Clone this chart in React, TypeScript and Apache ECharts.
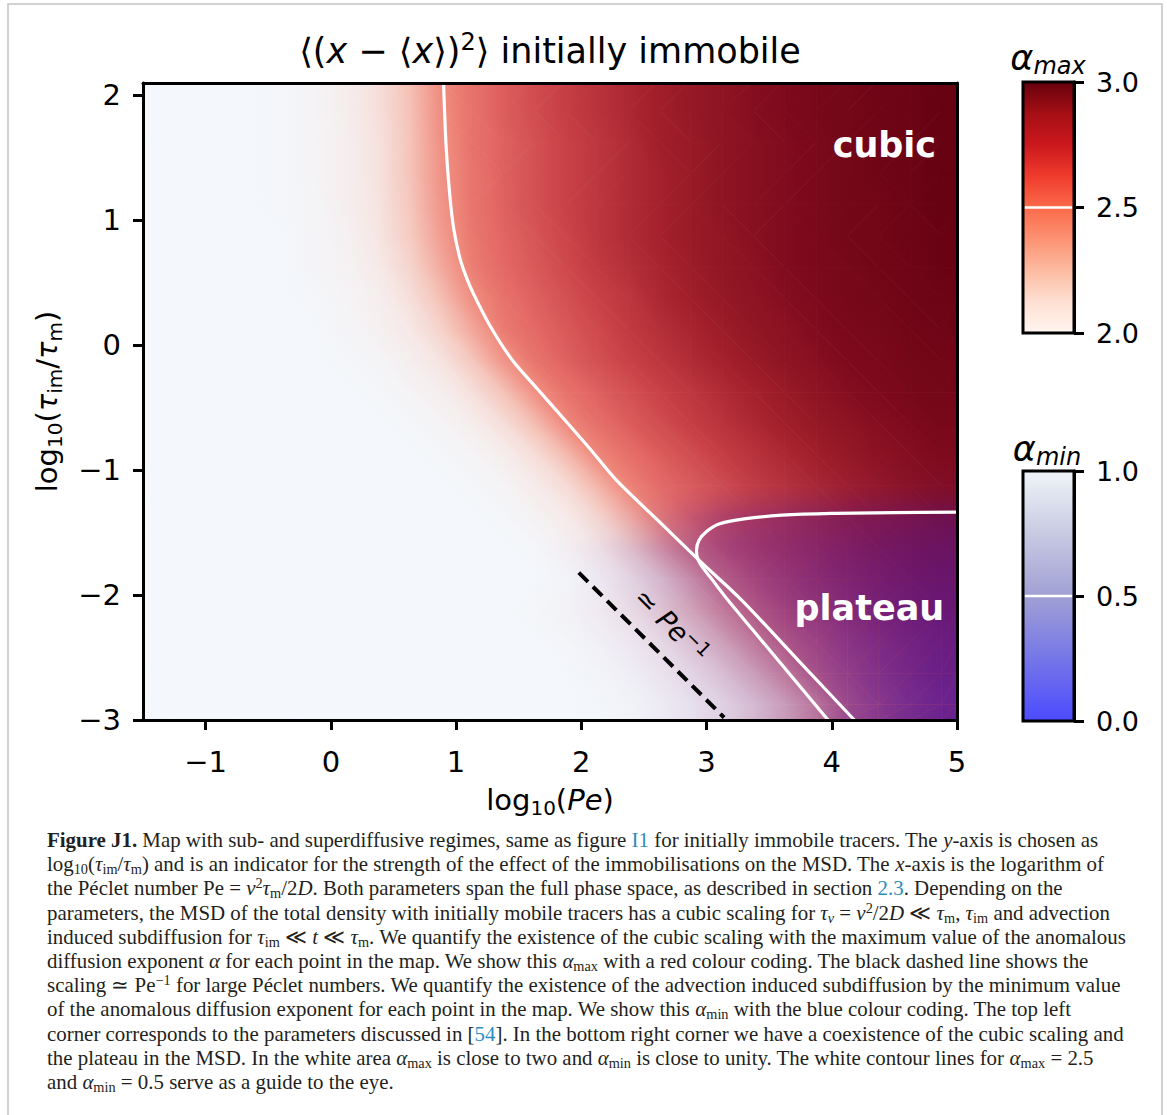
import React, { useEffect, useRef } from "react";
import * as echarts from "echarts";

// ---------------- data ----------------
const peCenters = [-1.375, -1.125, -0.875, -0.625, -0.375, -0.125, 0.125, 0.375, 0.625, 0.875, 1.125, 1.375, 1.625, 1.875, 2.125, 2.375, 2.625, 2.875, 3.125, 3.375, 3.625, 3.875, 4.125, 4.375, 4.625, 4.875];
const tauCenters = [-2.875, -2.625, -2.375, -2.125, -1.875, -1.625, -1.375, -1.125, -0.875, -0.625, -0.375, -0.125, 0.125, 0.375, 0.625, 0.875, 1.125, 1.375, 1.625, 1.875, 2.125];
const peRange = [-1.5, 5];
const tauRange = [-3, 2.1];

// alpha_max, one row per tau (bottom to top), one column per Pe
const alphaMax = [
  [2, 2, 2, 2, 2, 2, 2, 2, 2, 2, 2, 2, 2, 2, 2, 2.01, 2.02, 2.04, 2.08, 2.14, 2.25, 2.39, 2.54, 2.6, 2.64, 2.68],
  [2, 2, 2, 2, 2, 2, 2, 2, 2, 2, 2, 2, 2, 2, 2.01, 2.02, 2.04, 2.08, 2.14, 2.25, 2.39, 2.54, 2.6, 2.64, 2.68, 2.72],
  [2, 2, 2, 2, 2, 2, 2, 2, 2, 2, 2, 2, 2, 2.01, 2.02, 2.04, 2.08, 2.14, 2.25, 2.39, 2.54, 2.6, 2.64, 2.68, 2.72, 2.75],
  [2, 2, 2, 2, 2, 2, 2, 2, 2, 2, 2, 2, 2.01, 2.02, 2.04, 2.08, 2.14, 2.25, 2.39, 2.54, 2.62, 2.66, 2.7, 2.74, 2.77, 2.8],
  [2, 2, 2, 2, 2, 2, 2, 2, 2, 2, 2, 2, 2, 2.01, 2.03, 2.08, 2.16, 2.32, 2.51, 2.61, 2.66, 2.7, 2.74, 2.77, 2.8, 2.82],
  [2, 2, 2, 2, 2, 2, 2, 2, 2, 2, 2, 2, 2.01, 2.04, 2.09, 2.18, 2.34, 2.52, 2.62, 2.67, 2.71, 2.74, 2.77, 2.8, 2.83, 2.85],
  [2, 2, 2, 2, 2, 2, 2, 2, 2, 2, 2, 2.01, 2.04, 2.08, 2.18, 2.34, 2.52, 2.61, 2.66, 2.7, 2.73, 2.76, 2.79, 2.82, 2.84, 2.87],
  [2, 2, 2, 2, 2, 2, 2, 2, 2, 2, 2.01, 2.03, 2.08, 2.16, 2.32, 2.51, 2.59, 2.63, 2.67, 2.71, 2.74, 2.77, 2.8, 2.83, 2.86, 2.88],
  [2, 2, 2, 2, 2, 2, 2, 2, 2, 2.01, 2.03, 2.07, 2.15, 2.3, 2.5, 2.58, 2.63, 2.67, 2.71, 2.74, 2.77, 2.8, 2.83, 2.86, 2.88, 2.9],
  [2, 2, 2, 2, 2, 2, 2, 2, 2.01, 2.03, 2.07, 2.15, 2.29, 2.49, 2.58, 2.63, 2.67, 2.71, 2.74, 2.77, 2.8, 2.83, 2.85, 2.88, 2.9, 2.92],
  [2, 2, 2, 2, 2, 2, 2, 2.01, 2.03, 2.06, 2.14, 2.27, 2.46, 2.57, 2.62, 2.66, 2.7, 2.73, 2.76, 2.79, 2.82, 2.85, 2.88, 2.9, 2.92, 2.93],
  [2, 2, 2, 2, 2, 2, 2.01, 2.02, 2.06, 2.12, 2.25, 2.44, 2.56, 2.62, 2.66, 2.7, 2.73, 2.76, 2.79, 2.82, 2.85, 2.87, 2.9, 2.91, 2.93, 2.94],
  [2, 2, 2, 2, 2, 2, 2.02, 2.05, 2.1, 2.2, 2.37, 2.54, 2.6, 2.64, 2.68, 2.72, 2.75, 2.78, 2.81, 2.84, 2.86, 2.89, 2.91, 2.92, 2.94, 2.95],
  [2, 2, 2, 2, 2, 2.01, 2.03, 2.06, 2.14, 2.28, 2.47, 2.57, 2.62, 2.66, 2.7, 2.73, 2.77, 2.8, 2.83, 2.85, 2.88, 2.9, 2.92, 2.93, 2.95, 2.96],
  [2, 2, 2, 2, 2, 2.02, 2.04, 2.09, 2.19, 2.36, 2.53, 2.6, 2.64, 2.68, 2.72, 2.75, 2.78, 2.81, 2.84, 2.86, 2.89, 2.91, 2.92, 2.94, 2.95, 2.97],
  [2, 2, 2, 2, 2, 2.02, 2.05, 2.11, 2.23, 2.41, 2.55, 2.61, 2.65, 2.69, 2.73, 2.76, 2.79, 2.82, 2.84, 2.87, 2.89, 2.91, 2.93, 2.94, 2.96, 2.97],
  [2, 2, 2, 2, 2.01, 2.02, 2.06, 2.12, 2.25, 2.44, 2.56, 2.62, 2.66, 2.7, 2.73, 2.76, 2.79, 2.82, 2.85, 2.87, 2.89, 2.91, 2.93, 2.94, 2.96, 2.98],
  [2, 2, 2, 2, 2.01, 2.03, 2.06, 2.13, 2.26, 2.45, 2.56, 2.62, 2.66, 2.7, 2.73, 2.76, 2.79, 2.82, 2.85, 2.87, 2.89, 2.91, 2.93, 2.95, 2.96, 2.98],
  [2, 2, 2, 2, 2.01, 2.03, 2.06, 2.13, 2.26, 2.46, 2.57, 2.62, 2.66, 2.7, 2.73, 2.76, 2.8, 2.82, 2.85, 2.87, 2.89, 2.91, 2.93, 2.95, 2.96, 2.98],
  [2, 2, 2, 2, 2.01, 2.03, 2.07, 2.14, 2.27, 2.47, 2.57, 2.63, 2.67, 2.71, 2.74, 2.77, 2.8, 2.83, 2.85, 2.88, 2.9, 2.92, 2.93, 2.95, 2.96, 2.98],
  [2, 2, 2, 2, 2.01, 2.03, 2.07, 2.14, 2.28, 2.48, 2.57, 2.63, 2.67, 2.71, 2.74, 2.77, 2.8, 2.83, 2.85, 2.88, 2.9, 2.92, 2.93, 2.95, 2.96, 2.98],
];

// alpha_min, same grid
const alphaMin = [
  [1, 1, 1, 1, 1, 1, 1, 1, 1, 1, 1, 1, 1, 0.99, 0.96, 0.92, 0.86, 0.79, 0.72, 0.64, 0.57, 0.49, 0.36, 0.28, 0.22, 0.18],
  [1, 1, 1, 1, 1, 1, 1, 1, 1, 1, 1, 1, 1, 0.98, 0.94, 0.89, 0.82, 0.74, 0.66, 0.58, 0.51, 0.41, 0.33, 0.27, 0.23, 0.2],
  [1, 1, 1, 1, 1, 1, 1, 1, 1, 1, 1, 1, 0.99, 0.96, 0.91, 0.85, 0.77, 0.68, 0.6, 0.52, 0.45, 0.38, 0.32, 0.28, 0.25, 0.23],
  [1, 1, 1, 1, 1, 1, 1, 1, 1, 1, 1, 1, 0.98, 0.94, 0.88, 0.8, 0.71, 0.62, 0.54, 0.47, 0.42, 0.37, 0.33, 0.3, 0.28, 0.27],
  [1, 1, 1, 1, 1, 1, 1, 1, 1, 1, 1, 1, 0.98, 0.93, 0.85, 0.75, 0.64, 0.55, 0.48, 0.44, 0.4, 0.37, 0.35, 0.33, 0.32, 0.31],
  [1, 1, 1, 1, 1, 1, 1, 1, 1, 1, 1, 1, 0.98, 0.93, 0.84, 0.72, 0.6, 0.51, 0.47, 0.45, 0.43, 0.42, 0.4, 0.39, 0.38, 0.37],
  [1, 1, 1, 1, 1, 1, 1, 1, 1, 1, 1, 1, 1, 0.98, 0.94, 0.86, 0.76, 0.66, 0.58, 0.54, 0.52, 0.51, 0.5, 0.5, 0.49, 0.48],
  [1, 1, 1, 1, 1, 1, 1, 1, 1, 1, 1, 1, 1, 1, 0.99, 0.96, 0.93, 0.91, 0.89, 0.87, 0.86, 0.85, 0.85, 0.84, 0.84, 0.83],
  [1, 1, 1, 1, 1, 1, 1, 1, 1, 1, 1, 1, 1, 1, 1, 1, 0.99, 0.99, 0.98, 0.98, 0.97, 0.97, 0.96, 0.96, 0.96, 0.95],
  [1, 1, 1, 1, 1, 1, 1, 1, 1, 1, 1, 1, 1, 1, 1, 1, 1, 1, 1, 1, 0.99, 0.99, 0.99, 0.99, 0.99, 0.99],
  [1, 1, 1, 1, 1, 1, 1, 1, 1, 1, 1, 1, 1, 1, 1, 1, 1, 1, 1, 1, 1, 1, 1, 1, 1, 1],
  [1, 1, 1, 1, 1, 1, 1, 1, 1, 1, 1, 1, 1, 1, 1, 1, 1, 1, 1, 1, 1, 1, 1, 1, 1, 1],
  [1, 1, 1, 1, 1, 1, 1, 1, 1, 1, 1, 1, 1, 1, 1, 1, 1, 1, 1, 1, 1, 1, 1, 1, 1, 1],
  [1, 1, 1, 1, 1, 1, 1, 1, 1, 1, 1, 1, 1, 1, 1, 1, 1, 1, 1, 1, 1, 1, 1, 1, 1, 1],
  [1, 1, 1, 1, 1, 1, 1, 1, 1, 1, 1, 1, 1, 1, 1, 1, 1, 1, 1, 1, 1, 1, 1, 1, 1, 1],
  [1, 1, 1, 1, 1, 1, 1, 1, 1, 1, 1, 1, 1, 1, 1, 1, 1, 1, 1, 1, 1, 1, 1, 1, 1, 1],
  [1, 1, 1, 1, 1, 1, 1, 1, 1, 1, 1, 1, 1, 1, 1, 1, 1, 1, 1, 1, 1, 1, 1, 1, 1, 1],
  [1, 1, 1, 1, 1, 1, 1, 1, 1, 1, 1, 1, 1, 1, 1, 1, 1, 1, 1, 1, 1, 1, 1, 1, 1, 1],
  [1, 1, 1, 1, 1, 1, 1, 1, 1, 1, 1, 1, 1, 1, 1, 1, 1, 1, 1, 1, 1, 1, 1, 1, 1, 1],
  [1, 1, 1, 1, 1, 1, 1, 1, 1, 1, 1, 1, 1, 1, 1, 1, 1, 1, 1, 1, 1, 1, 1, 1, 1, 1],
  [1, 1, 1, 1, 1, 1, 1, 1, 1, 1, 1, 1, 1, 1, 1, 1, 1, 1, 1, 1, 1, 1, 1, 1, 1, 1],
];

const xTickValues = [-1, 0, 1, 2, 3, 4, 5];
const yTickValues = [-3, -2, -1, 0, 1, 2];
const alphaMaxBarTicks = [2.0, 2.5, 3.0];
const alphaMinBarTicks = [0.0, 0.5, 1.0];

// white contours (log10 Pe, log10 tau_im/tau_m)
const contourAlphaMax = [[0.9, 2.1], [0.92, 1.6], [0.95, 1.2], [0.98, 0.94], [1.03, 0.7], [1.08, 0.55], [1.14, 0.41], [1.28, 0.14], [1.45, -0.12], [1.65, -0.35], [1.87, -0.6], [2.07, -0.83], [2.28, -1.08], [2.62, -1.41], [2.96, -1.74], [3.28, -2.04], [3.73, -2.52], [4.18, -3.0]];
const contourAlphaMin = [[5.0, -1.335], [4.5, -1.34], [4.0, -1.345], [3.6, -1.36], [3.3, -1.39], [3.1, -1.43], [3.0, -1.49], [2.94, -1.56], [2.92, -1.64], [2.93, -1.71], [2.97, -1.78], [3.04, -1.87], [3.17, -2.04], [3.37, -2.28], [3.57, -2.52], [3.77, -2.76], [3.97, -3.0]];
const peScalingLine = [[1.98, -1.82], [3.14, -2.98]];

const regionLabels = [
  { text: "cubic", pe: 4.42, tau: 1.6 },
  { text: "plateau", pe: 4.3, tau: -2.1 },
];
const scalingLabel = { text: "≃ {i|Pe}{p|−1}", pe: 2.72, tau: -2.24 };

const captionLines = [
  "{b|Figure J1.} Map with sub- and superdiffusive regimes, same as figure {l|I1} for initially immobile tracers. The {i|y}-axis is chosen as",
  "log{s|10}({i|τ}{s|im}/{i|τ}{s|m}) and is an indicator for the strength of the effect of the immobilisations on the MSD. The {i|x}-axis is the logarithm of",
  "the Péclet number Pe = {i|v}{p|2}{i|τ}{s|m}/2{i|D}. Both parameters span the full phase space, as described in section {l|2.3}. Depending on the",
  "parameters, the MSD of the total density with initially mobile tracers has a cubic scaling for {i|τ}{si|v} = {i|v}{p|2}/2{i|D} ≪ {i|τ}{s|m}, {i|τ}{s|im} and advection",
  "induced subdiffusion for {i|τ}{s|im} ≪ {i|t} ≪ {i|τ}{s|m}. We quantify the existence of the cubic scaling with the maximum value of the anomalous",
  "diffusion exponent {i|α} for each point in the map. We show this {i|α}{s|max} with a red colour coding. The black dashed line shows the",
  "scaling ≃ Pe{p|−1} for large Péclet numbers. We quantify the existence of the advection induced subdiffusion by the minimum value",
  "of the anomalous diffusion exponent for each point in the map. We show this {i|α}{s|min} with the blue colour coding. The top left",
  "corner corresponds to the parameters discussed in [{l|54}]. In the bottom right corner we have a coexistence of the cubic scaling and",
  "the plateau in the MSD. In the white area {i|α}{s|max} is close to two and {i|α}{s|min} is close to unity. The white contour lines for {i|α}{s|max} = 2.5",
  "and {i|α}{s|min} = 0.5 serve as a guide to the eye.",
];

// ---------------- styles ----------------
const SANS = "DejaVu Sans";
const SERIF = "Liberation Serif";

const MAP_RED: [number, number[]][] = [
  [2.0, [244, 247, 251]],
  [2.1, [246, 232, 230]],
  [2.25, [245, 200, 190]],
  [2.4, [242, 160, 148]],
  [2.5, [238, 135, 122]],
  [2.6, [228, 105, 102]],
  [2.7, [200, 65, 70]],
  [2.8, [160, 30, 42]],
  [2.9, [125, 10, 28]],
  [3.0, [96, 0, 16]],
];
const MAP_RED_BREAKS = MAP_RED.map((s) => s[0]);
const MAP_BLUE = "62,18,172";
const BLUE_BREAKS = [0.1, 0.2, 0.3, 0.4, 0.5, 0.6, 0.7, 0.8, 0.9];

function ramp(v: number, stops: [number, number[]][]) {
  if (v <= stops[0][0]) return stops[0][1];
  for (let k = 1; k < stops.length; k++) {
    if (v <= stops[k][0]) {
      const [a, ca] = stops[k - 1];
      const [b, cb] = stops[k];
      const t = (v - a) / (b - a);
      return ca.map((c, n) => c + (cb[n] - c) * t);
    }
  }
  return stops[stops.length - 1][1];
}
const rgbStr = (c: number[]) => `rgb(${Math.round(c[0])},${Math.round(c[1])},${Math.round(c[2])})`;
const redColor = (amax: number) => rgbStr(ramp(amax, MAP_RED));
const blueAlpha = (amin: number) => 0.95 * Math.pow(Math.max(0, Math.min(1, 1 - amin)), 1.6);
const blueColor = (amin: number) => `rgba(${MAP_BLUE},${blueAlpha(amin).toFixed(4)})`;

// triangle shaded with a linear gradient along the gradient of the (affinely varying) value
function valueTriangle(P: number[][], V: number[], colorAt: (v: number) => string, breaks: number[], opaque: boolean) {
  const e1 = [P[1][0] - P[0][0], P[1][1] - P[0][1]];
  const e2 = [P[2][0] - P[0][0], P[2][1] - P[0][1]];
  const det = e1[0] * e2[1] - e1[1] * e2[0];
  const vmin = Math.min(...V);
  const vmax = Math.max(...V);
  let fill: any = colorAt((V[0] + V[1] + V[2]) / 3);
  if (Math.abs(det) > 1e-6 && vmax - vmin > 1e-4) {
    const d1 = V[1] - V[0];
    const d2 = V[2] - V[0];
    const gx = (e2[1] * d1 - e1[1] * d2) / det;
    const gy = (-e2[0] * d1 + e1[0] * d2) / det;
    const gl = Math.hypot(gx, gy);
    const d = [gx / gl, gy / gl];
    const s0 = d[0] * P[0][0] + d[1] * P[0][1];
    const tmin = s0 + (vmin - V[0]) / gl;
    const tmax = s0 + (vmax - V[0]) / gl;
    const vals = [vmin, ...breaks.filter((b) => b > vmin && b < vmax), vmax];
    fill = new echarts.graphic.LinearGradient(
      d[0] * tmin, d[1] * tmin, d[0] * tmax, d[1] * tmax,
      vals.map((v) => ({ offset: (v - vmin) / (vmax - vmin), color: colorAt(v) })),
      true
    );
  }
  return {
    type: "polygon",
    shape: { points: P.map((p) => [p[0], p[1]]) },
    style: opaque ? { fill, stroke: fill, lineWidth: 1, lineJoin: "round" } : { fill },
  };
}

const REDS_STOPS = [
  { offset: 0, color: "#67000d" },
  { offset: 0.125, color: "#a50f15" },
  { offset: 0.25, color: "#cb181d" },
  { offset: 0.375, color: "#ef3b2c" },
  { offset: 0.5, color: "#fb6a4a" },
  { offset: 0.625, color: "#fc9272" },
  { offset: 0.75, color: "#fcbba1" },
  { offset: 0.875, color: "#fee0d2" },
  { offset: 1, color: "#fff5f0" },
];
const BLUES_STOPS = [
  { offset: 0, color: "rgb(240,244,248)" },
  { offset: 0.25, color: "rgb(200,202,226)" },
  { offset: 0.5, color: "rgb(160,160,212)" },
  { offset: 0.75, color: "rgb(118,118,232)" },
  { offset: 1, color: "rgb(75,75,255)" },
];

const fmtTick = (v: number) => (v < 0 ? "\u2212" + Math.abs(v) : String(v));

function buildOption() {
  // mesh vertices: the cell centres, with the outermost ones carried out to the axis limits
  const vx = [peRange[0], ...peCenters, peRange[1]];
  const vxi = [0, ...peCenters.map((_, i) => i), peCenters.length - 1];
  const vy = [tauRange[0], ...tauCenters];
  const vyi = [0, ...tauCenters.map((_, j) => j)];
  if (tauCenters[tauCenters.length - 1] < tauRange[1]) {
    vy.push(tauRange[1]);
    vyi.push(tauCenters.length - 1);
  }

  const quads: number[][] = [];
  for (let j = 0; j < vy.length - 1; j++) {
    for (let i = 0; i < vx.length - 1; i++) {
      const corners = [[i, j], [i + 1, j], [i + 1, j + 1], [i, j + 1]];
      quads.push([
        vx[i], vy[j], vx[i + 1], vy[j + 1],
        ...corners.map(([ci, cj]) => alphaMax[vyi[cj]][vxi[ci]]),
        ...corners.map(([ci, cj]) => alphaMin[vyi[cj]][vxi[ci]]),
      ]);
    }
  }

  const meshRender = (offset: number, layer: "red" | "blue") => (params: any, api: any) => {
    const x0 = api.value(0), y0 = api.value(1), x1 = api.value(2), y1 = api.value(3);
    const V = [0, 1, 2, 3].map((k) => api.value(offset + k));
    if (layer === "blue" && Math.max(...V.map(blueAlpha)) < 0.004) return { type: "group", children: [] };
    const P = [api.coord([x0, y0]), api.coord([x1, y0]), api.coord([x1, y1]), api.coord([x0, y1])];
    const tris = Math.abs(V[0] - V[2]) <= Math.abs(V[1] - V[3]) ? [[0, 1, 2], [0, 2, 3]] : [[0, 1, 3], [1, 2, 3]];
    return {
      type: "group",
      children: tris.map((t) =>
        layer === "red"
          ? valueTriangle(t.map((k) => P[k]), t.map((k) => V[k]), redColor, MAP_RED_BREAKS, true)
          : valueTriangle(t.map((k) => P[k]), t.map((k) => V[k]), blueColor, BLUE_BREAKS, false)
      ),
    };
  };

  const colorbarRender = (stops: any) => (params: any, api: any) => {
    const lo = api.value(0);
    const hi = api.value(1);
    const lev = api.value(2);
    const tl = api.coord([0, hi]);
    const br = api.coord([1, lo]);
    const mid = api.coord([0, lev]);
    const shape = { x: tl[0], y: tl[1], width: br[0] - tl[0], height: br[1] - tl[1] };
    return {
      type: "group",
      children: [
        { type: "rect", shape, style: { fill: new echarts.graphic.LinearGradient(0, 0, 0, 1, stops) } },
        { type: "line", shape: { x1: tl[0] + 1.5, y1: mid[1], x2: br[0] - 1.5, y2: mid[1] }, style: { stroke: "#fff", lineWidth: 2.5 } },
        { type: "rect", shape, style: { fill: "none", stroke: "#000", lineWidth: 3 } },
      ],
    };
  };

  const axisNameStyle = {
    fontFamily: SANS,
    fontSize: 29,
    color: "#000",
    lineHeight: 36,
    rich: {
      s: { fontFamily: SANS, fontSize: 20, lineHeight: 20, verticalAlign: "bottom", color: "#000" },
      i: { fontFamily: SANS, fontSize: 29, lineHeight: 36, fontStyle: "italic", color: "#000" },
    },
  };

  const mainTickLabel = { fontFamily: SANS, fontSize: 29, color: "#000" };
  const frameLine = { show: true, onZero: false, lineStyle: { color: "#000", width: 3 } };
  const tickStyle = { show: true, length: 10, lineStyle: { color: "#000", width: 3 } };

  const capBase = { fontFamily: SERIF, fontSize: 20.9, lineHeight: 24, fill: "#231f20" };
  const capSub = { fontFamily: SERIF, fontSize: 14.3, lineHeight: 14, fill: "#231f20" };
  const capRich = {
    b: { ...capBase, fontWeight: "bold" },
    i: { ...capBase, fontStyle: "italic" },
    l: { ...capBase, fill: "#2b8cbe" },
    s: { ...capSub, verticalAlign: "bottom" },
    si: { ...capSub, fontStyle: "italic", verticalAlign: "bottom" },
    p: { ...capSub, verticalAlign: "top" },
  };

  const cbTitleRich = {
    a: { fontFamily: SANS, fontSize: 35, lineHeight: 40, fontStyle: "italic", fill: "#000" },
    s: { fontFamily: SANS, fontSize: 24, lineHeight: 24, fontStyle: "italic", verticalAlign: "bottom", fill: "#000" },
  };

  return {
    animation: false,
    backgroundColor: "#fff",
    textStyle: { fontFamily: SANS },
    grid: [
      { left: 143, top: 83, width: 814, height: 637 },
      { left: 1023, top: 82, width: 51, height: 251 },
      { left: 1023, top: 471, width: 51, height: 250 },
    ],
    xAxis: [
      {
        gridIndex: 0, type: "value", min: peRange[0], max: peRange[1], position: "bottom", z: 10,
        axisLine: frameLine,
        axisTick: { ...tickStyle, customValues: xTickValues },
        axisLabel: { ...mainTickLabel, margin: 27, customValues: xTickValues, formatter: fmtTick },
        splitLine: { show: false },
        name: "log{s|10}({i|Pe})", nameLocation: "middle", nameGap: 62, nameTextStyle: axisNameStyle,
      },
      {
        gridIndex: 0, type: "value", min: peRange[0], max: peRange[1], position: "top", z: 10,
        axisLine: frameLine, axisTick: { show: false }, axisLabel: { show: false }, splitLine: { show: false },
      },
      { gridIndex: 1, type: "value", min: 0, max: 1, show: false },
      { gridIndex: 2, type: "value", min: 0, max: 1, show: false },
    ],
    yAxis: [
      {
        gridIndex: 0, type: "value", min: tauRange[0], max: tauRange[1], position: "left", z: 10,
        axisLine: frameLine,
        axisTick: { ...tickStyle, customValues: yTickValues },
        axisLabel: { ...mainTickLabel, margin: 22, customValues: yTickValues, formatter: fmtTick },
        splitLine: { show: false },
        name: "log{s|10}({i|τ}{s|im}/{i|τ}{s|m})", nameLocation: "middle", nameGap: 78, nameRotate: 90,
        nameTextStyle: axisNameStyle,
      },
      {
        gridIndex: 0, type: "value", min: tauRange[0], max: tauRange[1], position: "right", z: 10,
        axisLine: frameLine, axisTick: { show: false }, axisLabel: { show: false }, splitLine: { show: false },
      },
      {
        gridIndex: 1, type: "value", min: 2, max: 3, position: "right", z: 10,
        axisLine: frameLine,
        axisTick: { ...tickStyle, customValues: alphaMaxBarTicks },
        axisLabel: { fontFamily: SANS, fontSize: 27, color: "#000", margin: 22, customValues: alphaMaxBarTicks, formatter: (v: number) => v.toFixed(1) },
        splitLine: { show: false },
      },
      {
        gridIndex: 2, type: "value", min: 0, max: 1, position: "right", z: 10,
        axisLine: frameLine,
        axisTick: { ...tickStyle, customValues: alphaMinBarTicks },
        axisLabel: { fontFamily: SANS, fontSize: 27, color: "#000", margin: 22, customValues: alphaMinBarTicks, formatter: (v: number) => v.toFixed(1) },
        splitLine: { show: false },
      },
    ],
    series: [
      {
        type: "custom", name: "alpha_max map", xAxisIndex: 0, yAxisIndex: 0, data: quads, clip: true, silent: true, z: 1,
        encode: { x: [0, 2], y: [1, 3] },
        renderItem: meshRender(4, "red"),
      },
      {
        type: "custom", name: "alpha_min map", xAxisIndex: 0, yAxisIndex: 0, data: quads, clip: true, silent: true, z: 2,
        encode: { x: [0, 2], y: [1, 3] },
        renderItem: meshRender(8, "blue"),
      },
      {
        type: "line", name: "alpha_max = 2.5", xAxisIndex: 0, yAxisIndex: 0, data: contourAlphaMax,
        symbol: "none", smooth: 0.3, silent: true, z: 3, clip: true,
        lineStyle: { color: "#fff", width: 3.2 },
      },
      {
        type: "line", name: "alpha_min = 0.5", xAxisIndex: 0, yAxisIndex: 0, data: contourAlphaMin,
        symbol: "none", smooth: 0.3, silent: true, z: 3, clip: true,
        lineStyle: { color: "#fff", width: 3.2 },
      },
      {
        type: "line", name: "Pe^-1", xAxisIndex: 0, yAxisIndex: 0, data: peScalingLine,
        symbol: "none", silent: true, z: 3, clip: true,
        lineStyle: { color: "#000", width: 4, type: [13, 7] },
      },
      {
        type: "scatter", name: "labels", xAxisIndex: 0, yAxisIndex: 0, symbolSize: 1, silent: true, z: 6,
        itemStyle: { color: "rgba(0,0,0,0)", opacity: 1 },
        data: [
          ...regionLabels.map((r) => ({
            value: [r.pe, r.tau],
            label: {
              show: true, position: "inside", formatter: r.text, opacity: 1,
              fontFamily: SANS, fontWeight: "bold", fontSize: 35, color: "#ffffff",
            },
          })),
          {
            value: [scalingLabel.pe, scalingLabel.tau],
            label: {
              show: true, position: "inside", formatter: scalingLabel.text, rotate: -45, opacity: 1,
              fontFamily: SANS, fontSize: 27, color: "#000", lineHeight: 32,
              rich: {
                i: { fontFamily: SANS, fontSize: 27, lineHeight: 32, fontStyle: "italic", color: "#000" },
                p: { fontFamily: SANS, fontSize: 19, lineHeight: 19, verticalAlign: "top", color: "#000" },
              },
            },
          },
        ],
      },
      {
        type: "custom", name: "alpha_max bar", xAxisIndex: 2, yAxisIndex: 2, silent: true, z: 2,
        data: [[alphaMaxBarTicks[0], alphaMaxBarTicks[2], alphaMaxBarTicks[1]]],
        renderItem: colorbarRender(REDS_STOPS),
      },
      {
        type: "custom", name: "alpha_min bar", xAxisIndex: 3, yAxisIndex: 3, silent: true, z: 2,
        data: [[alphaMinBarTicks[0], alphaMinBarTicks[2], alphaMinBarTicks[1]]],
        renderItem: colorbarRender(BLUES_STOPS),
      },
    ],
    graphic: {
      elements: [
        {
          type: "rect", silent: true, z: 0,
          shape: { x: 8, y: 4, width: 1154, height: 1140 },
          style: { fill: "none", stroke: "#c4c4c4", lineWidth: 1.5 },
        },
        {
          type: "text", x: 550, y: 51, silent: true,
          style: {
            text: "⟨({i|x} − ⟨{i|x}⟩){p|2}⟩ initially immobile",
            fontFamily: SANS, fontSize: 35, lineHeight: 42, fill: "#000", align: "center", verticalAlign: "middle",
            rich: {
              i: { fontFamily: SANS, fontSize: 35, lineHeight: 42, fontStyle: "italic", fill: "#000" },
              p: { fontFamily: SANS, fontSize: 24, lineHeight: 24, verticalAlign: "top", fill: "#000" },
            },
          },
        },
        {
          type: "text", x: 1048, y: 58, silent: true,
          style: { text: "{a|α}{s|max}", fontFamily: SANS, fontSize: 35, lineHeight: 40, fill: "#000", align: "center", verticalAlign: "middle", rich: cbTitleRich },
        },
        {
          type: "text", x: 1047, y: 449, silent: true,
          style: { text: "{a|α}{s|min}", fontFamily: SANS, fontSize: 35, lineHeight: 40, fill: "#000", align: "center", verticalAlign: "middle", rich: cbTitleRich },
        },
        ...captionLines.map((t, k) => ({
          type: "text", x: 47, y: 840 + 24.2 * k, silent: true,
          style: { text: t, ...capBase, align: "left", verticalAlign: "middle", rich: capRich },
        })),
      ],
    },
  };
}

export default function App() {
  const ref = useRef<HTMLDivElement>(null);
  useEffect(() => {
    if (!ref.current) return;
    const chart = echarts.init(ref.current, null, { renderer: "svg" });
    chart.setOption(buildOption() as any);
    return () => chart.dispose();
  }, []);
  return (
    <div
      ref={ref}
      style={{ position: "absolute", left: 0, top: 0, width: 1167, height: 1115, background: "#fff" }}
    />
  );
}
